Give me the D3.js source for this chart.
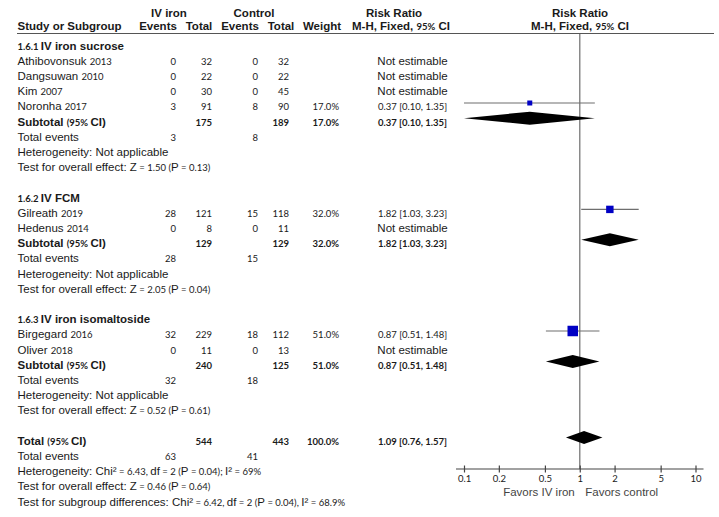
<!DOCTYPE html>
<html lang="en">
<head>
    <meta charset="UTF-8">
    <title>Forest plot - IV iron vs control</title>
    <script src="https://d3js.org/d3.v7.min.js"></script>
    <style>
        body {
            margin: 0;
            background: #ffffff;
        }
        svg text {
            fill: #1a1a1a;
        }
    </style>
</head>
<body>
<script>
    // ---- data ----
    const studies   = ["Athibovonsuk", "Dangsuwan", "Kim", "Noronha", "Gilreath", "Hedenus", "Birgegard", "Oliver"];
    const years     = ["2013", "2010", "2007", "2017", "2019", "2014", "2016", "2018"];
    const studyGrp  = [0, 0, 0, 0, 1, 1, 2, 2];
    const ivEvents  = [0, 0, 0, 3, 28, 0, 32, 0];
    const ivTotal   = [32, 22, 30, 91, 121, 8, 229, 11];
    const ctlEvents = [0, 0, 0, 8, 15, 0, 18, 0];
    const ctlTotal  = [32, 22, 45, 90, 118, 11, 112, 13];
    const weights   = [null, null, null, 17.0, 32.0, null, 51.0, null];
    const rr        = [null, null, null, 0.37, 1.82, null, 0.87, null];
    const rrLow     = [null, null, null, 0.10, 1.03, null, 0.51, null];
    const rrHigh    = [null, null, null, 1.35, 3.23, null, 1.48, null];

    const grpCodes     = ["1.6.1", "1.6.2", "1.6.3"];
    const grpNames     = ["IV iron sucrose", "IV FCM", "IV iron isomaltoside"];
    const grpIvTotal   = [175, 129, 240];
    const grpCtlTotal  = [189, 129, 125];
    const grpIvEvents  = [3, 28, 32];
    const grpCtlEvents = [8, 15, 18];
    const grpWeight    = [17.0, 32.0, 51.0];
    const grpRR        = [0.37, 1.82, 0.87];
    const grpLow       = [0.10, 1.03, 0.51];
    const grpHigh      = [1.35, 3.23, 1.48];
    const grpZ         = ["1.50", "2.05", "0.52"];
    const grpP         = ["0.13", "0.04", "0.61"];

    const overall = {ivTotal: 544, ctlTotal: 443, ivEvents: 63, ctlEvents: 41, weight: 100.0,
                     rr: 1.09, low: 0.76, high: 1.57};
    const hetStats  = ["6.43", "2", "0.04", "69%"];
    const overallZ  = ["0.46", "0.64"];
    const subgrpDiff = ["6.42", "2", "0.04", "68.9%"];

    const axisTicks = [0.1, 0.2, 0.5, 1, 2, 5, 10];

    // ---- layout ----
    const width = 719, height = 517;
    const rowBase = i => 49.5 + i * 15.2;     // text baseline of row i
    const rowMid = i => rowBase(i) - 7.3;     // centre of the mark in row i
    const col = {name: 17.5, ivEv: 176, ivTot: 212, ctEv: 258, ctTot: 289, w: 339, rr: 412.5};
    const axisY = 469;

    const svg = d3.select("body").append("svg")
        .attr("width", width)
        .attr("height", height);

    const x = d3.scaleLog().domain([0.1, 10]).range([464, 695.5]);
    const boxSize = d3.scaleLinear().domain([17, 51]).range([5, 10.5]);

    // text made of runs: "a" = sans text, "c" = small numerals
    function addText(x0, y0, anchor, runs, bold) {
        const t = svg.append("text")
            .attr("x", x0)
            .attr("y", y0)
            .attr("text-anchor", anchor)
            .attr("font-weight", bold ? "bold" : "normal");
        runs.forEach(r => {
            t.append("tspan")
                .attr("font-family", r[1] === "c" ? "Lato, 'Open Sans', sans-serif" : "'Liberation Sans', Arial, sans-serif")
                .attr("font-size", r[1] === "c" ? 9.5 : 11.5)
                .text(r[0]);
        });
        return t;
    }
    const num = (x0, y0, v, bold) => addText(x0, y0, "end", [[String(v), "c"]], bold);
    const fmtW = v => v.toFixed(1) + "%";
    const fmtRR = (m, l, h) => `${m.toFixed(2)} [${l.toFixed(2)}, ${h.toFixed(2)}]`;

    // ---- headers ----
    addText(169, 17, "middle", [["IV iron", "a"]], true);
    addText(254, 17, "middle", [["Control", "a"]], true);
    addText(394, 17, "middle", [["Risk Ratio", "a"]], true);
    addText(580, 17, "middle", [["Risk Ratio", "a"]], true);

    addText(col.name, 30, "start", [["Study or Subgroup", "a"]], true);
    addText(158, 30, "middle", [["Events", "a"]], true);
    addText(199, 30, "middle", [["Total", "a"]], true);
    addText(240, 30, "middle", [["Events", "a"]], true);
    addText(281, 30, "middle", [["Total", "a"]], true);
    addText(322, 30, "middle", [["Weight", "a"]], true);
    addText(401, 30, "middle", [["M-H, Fixed, ", "a"], ["95%", "c"], [" CI", "a"]], true);
    addText(580, 30, "middle", [["M-H, Fixed, ", "a"], ["95%", "c"], [" CI", "a"]], true);

    svg.append("line")
        .attr("x1", 17).attr("x2", 714)
        .attr("y1", 33.5).attr("y2", 33.5)
        .attr("stroke", "#555").attr("stroke-width", 1);

    // line of no effect
    svg.append("line")
        .attr("x1", x(1)).attr("x2", x(1))
        .attr("y1", 34).attr("y2", axisY)
        .attr("stroke", "#8a8a8a").attr("stroke-width", 1.5);

    function diamond(row, m, l, h) {
        const cy = rowMid(row);
        svg.append("path")
            .attr("d", `M${x(l)},${cy}L${x(m)},${cy - 6.5}L${x(h)},${cy}L${x(m)},${cy + 6.5}Z`)
            .attr("fill", "#000");
    }

    // ---- subgroups ----
    let row = 0;
    grpCodes.forEach((code, g) => {
        addText(col.name, rowBase(row), "start", [[code + " ", "c"], [grpNames[g], "a"]], true);
        row++;
        studies.forEach((s, i) => {
            if (studyGrp[i] !== g) return;
            const yb = rowBase(row);
            addText(col.name, yb, "start", [[s + " ", "a"], [years[i], "c"]], false);
            num(col.ivEv, yb, ivEvents[i]);
            num(col.ivTot, yb, ivTotal[i]);
            num(col.ctEv, yb, ctlEvents[i]);
            num(col.ctTot, yb, ctlTotal[i]);
            if (rr[i] === null) {
                addText(col.rr, yb, "middle", [["Not estimable", "a"]], false);
            } else {
                num(col.w, yb, fmtW(weights[i]));
                addText(col.rr, yb, "middle", [[fmtRR(rr[i], rrLow[i], rrHigh[i]), "c"]], false);
                const cy = rowMid(row);
                svg.append("line")
                    .attr("x1", x(rrLow[i])).attr("x2", x(rrHigh[i]))
                    .attr("y1", cy).attr("y2", cy)
                    .attr("stroke", "#6e6e6e").attr("stroke-width", 1.2);
                const s2 = boxSize(weights[i]);
                svg.append("rect")
                    .attr("x", x(rr[i]) - s2 / 2).attr("y", cy - s2 / 2)
                    .attr("width", s2).attr("height", s2)
                    .attr("fill", "#0000c4");
            }
            row++;
        });
        // subtotal
        let yb = rowBase(row);
        addText(col.name, yb, "start", [["Subtotal ", "a"], ["(95% ", "c"], ["CI)", "a"]], true);
        num(col.ivTot, yb, grpIvTotal[g], true);
        num(col.ctTot, yb, grpCtlTotal[g], true);
        num(col.w, yb, fmtW(grpWeight[g]), true);
        addText(col.rr, yb, "middle", [[fmtRR(grpRR[g], grpLow[g], grpHigh[g]), "c"]], true);
        diamond(row, grpRR[g], grpLow[g], grpHigh[g]);
        row++;
        yb = rowBase(row);
        addText(col.name, yb, "start", [["Total events", "a"]], false);
        num(col.ivEv, yb, grpIvEvents[g]);
        num(col.ctEv, yb, grpCtlEvents[g]);
        row++;
        addText(col.name, rowBase(row), "start", [["Heterogeneity: Not applicable", "a"]], false);
        row++;
        addText(col.name, rowBase(row), "start",
            [["Test for overall effect: Z", "a"], [" = " + grpZ[g] + " (", "c"], ["P", "a"], [" = " + grpP[g] + ")", "c"]], false);
        row += 2;
    });

    // ---- overall ----
    let yb = rowBase(row);
    addText(col.name, yb, "start", [["Total ", "a"], ["(95% ", "c"], ["CI)", "a"]], true);
    num(col.ivTot, yb, overall.ivTotal, true);
    num(col.ctTot, yb, overall.ctlTotal, true);
    num(col.w, yb, fmtW(overall.weight), true);
    addText(col.rr, yb, "middle", [[fmtRR(overall.rr, overall.low, overall.high), "c"]], true);
    diamond(row, overall.rr, overall.low, overall.high);
    row++;
    yb = rowBase(row);
    addText(col.name, yb, "start", [["Total events", "a"]], false);
    num(col.ivEv, yb, overall.ivEvents);
    num(col.ctEv, yb, overall.ctlEvents);
    row++;
    addText(col.name, rowBase(row), "start",
        [["Heterogeneity: Chi²", "a"], [" = " + hetStats[0] + ", ", "c"], ["df", "a"], [" = " + hetStats[1] + " (", "c"],
         ["P", "a"], [" = " + hetStats[2] + "); ", "c"], ["I²", "a"], [" = " + hetStats[3], "c"]], false);
    row++;
    addText(col.name, rowBase(row), "start",
        [["Test for overall effect: Z", "a"], [" = " + overallZ[0] + " (", "c"], ["P", "a"], [" = " + overallZ[1] + ")", "c"]], false);
    row++;
    addText(col.name, rowBase(row), "start",
        [["Test for subgroup differences: Chi²", "a"], [" = " + subgrpDiff[0] + ", ", "c"], ["df", "a"], [" = " + subgrpDiff[1] + " (", "c"],
         ["P", "a"], [" = " + subgrpDiff[2] + "), ", "c"], ["I²", "a"], [" = " + subgrpDiff[3], "c"]], false);

    // ---- axis ----
    const axisG = svg.append("g")
        .attr("transform", `translate(0,${axisY})`)
        .call(d3.axisBottom(x).tickValues(axisTicks).tickFormat(d => String(d)).tickSizeOuter(0).tickSizeInner(3));
    axisG.select(".domain").remove();
    axisG.insert("line", ":first-child")
        .attr("x1", x(0.1) - 8).attr("x2", x(10) + 8)
        .attr("stroke", "#444").attr("stroke-width", 1.2);
    axisG.selectAll(".tick line").attr("y1", -3.5).attr("y2", 3.5).attr("stroke", "#444").attr("stroke-width", 1.2);
    axisG.selectAll(".tick text")
        .attr("y", 13).attr("dy", 0)
        .attr("font-family", "Lato, 'Open Sans', sans-serif")
        .attr("font-size", 9.5)
        .attr("fill", "#222");

    addText(x(1) - 5, 496, "end", [["Favors IV iron", "a"]], false).attr("fill", "#444").selectAll("tspan").style("fill", "#444");
    addText(x(1) + 5.5, 496, "start", [["Favors control", "a"]], false).selectAll("tspan").style("fill", "#444");
</script>
</body>
</html>
